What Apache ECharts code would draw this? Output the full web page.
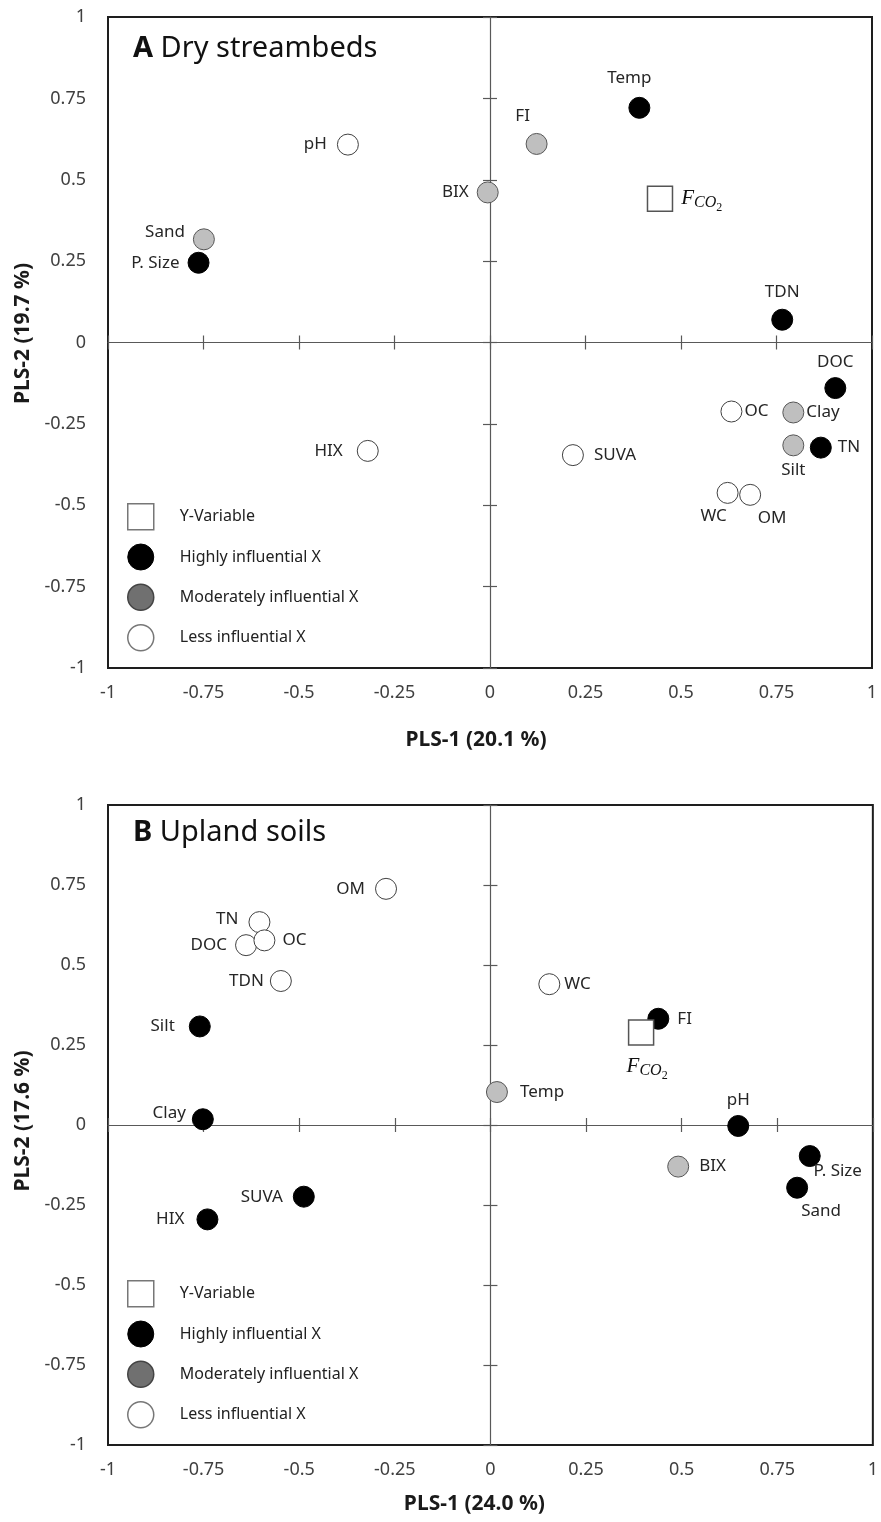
<!DOCTYPE html>
<html>
<head>
<meta charset="utf-8">
<script src="https://cdn.jsdelivr.net/npm/echarts@6/dist/echarts.min.js"></script>
<style>
  html, body { margin: 0; padding: 0; background: #fff; }
  #chart { width: 881px; height: 1522px; }
</style>
</head>
<body>
<div id="chart"></div>
<script>
// panel A - dry streambeds
var namesA  = ['pH', 'Sand', 'P. Size', 'Temp', 'FI', 'BIX', 'TDN', 'DOC', 'OC', 'Clay', 'Silt', 'TN', 'SUVA', 'WC', 'OM', 'HIX'];
var pls1A   = [-0.372, -0.749, -0.763, 0.391, 0.122, -0.006, 0.765, 0.904, 0.632, 0.794, 0.794, 0.866, 0.217, 0.622, 0.681, -0.320];
var pls2A   = [0.608, 0.317, 0.245, 0.721, 0.610, 0.461, 0.070, -0.140, -0.212, -0.215, -0.316, -0.323, -0.346, -0.462, -0.468, -0.333];
var levelA  = ['less', 'mod', 'high', 'high', 'mod', 'mod', 'high', 'high', 'less', 'mod', 'mod', 'high', 'less', 'less', 'less', 'less'];
var fco2A   = [0.445, 0.442];

// panel B - upland soils
var namesB  = ['OM', 'TN', 'DOC', 'OC', 'TDN', 'Silt', 'Clay', 'WC', 'FI', 'Temp', 'pH', 'BIX', 'P. Size', 'Sand', 'SUVA', 'HIX'];
var pls1B   = [-0.273, -0.604, -0.639, -0.591, -0.548, -0.760, -0.752, 0.154, 0.439, 0.017, 0.648, 0.491, 0.835, 0.802, -0.488, -0.740];
var pls2B   = [0.738, 0.634, 0.562, 0.577, 0.450, 0.308, 0.018, 0.440, 0.332, 0.103, -0.003, -0.130, -0.097, -0.196, -0.224, -0.295];
var levelB  = ['less', 'less', 'less', 'less', 'less', 'high', 'high', 'less', 'high', 'mod', 'high', 'mod', 'high', 'high', 'high', 'high'];
var fco2B   = [0.394, 0.289];

var axisTicks = [-1, -0.75, -0.5, -0.25, 0, 0.25, 0.5, 0.75, 1];
var xTitles = ['PLS-1 (20.1 %)', 'PLS-1 (24.0 %)'];
var yTitles = ['PLS-2 (19.7 %)', 'PLS-2 (17.6 %)'];
var panelTitles = ['A', 'B'];
var panelNames = [' Dry streambeds', ' Upland soils'];
var legendNames = ['Y-Variable', 'Highly influential X', 'Moderately influential X', 'Less influential X'];

// label placement (style only)
var posA = {
    'pH': ['left', 10], 'Sand': ['left', 8, [0, -7]], 'P. Size': ['left', 8], 'Temp': ['top', 10, [-10, 0]],
    'FI': ['top', 8, [-14, 0]], 'BIX': ['left', 8], 'TDN': ['top', 8], 'DOC': ['top', 6],
    'OC': ['right', 2], 'Clay': ['right', 2], 'Silt': ['bottom', 5], 'TN': ['right', 6],
    'SUVA': ['right', 10], 'WC': ['bottom', 4, [-14, 0]], 'OM': ['bottom', 4, [22, 0]], 'HIX': ['left', 14]
};
var posB = {
    'OM': ['left', 10], 'TN': ['left', 10, [0, -3]], 'OC': ['right', 7], 'DOC': ['left', 8], 'TDN': ['left', 6],
    'Silt': ['left', 14], 'Clay': ['left', 6, [0, -6]], 'WC': ['right', 4], 'FI': ['right', 8],
    'Temp': ['right', 12], 'pH': ['top', 6], 'BIX': ['right', 10], 'P. Size': ['bottom', 2, [28, -6]],
    'Sand': ['bottom', 4, [24, 0]], 'SUVA': ['left', 10], 'HIX': ['left', 12]
};

var FONT = 'Noto Sans';
var styles = {
    high: { color: '#000', borderColor: '#000', borderWidth: 1, opacity: 1 },
    mod:  { color: '#bfbfbf', borderColor: '#555', borderWidth: 1, opacity: 1 },
    less: { color: '#fff', borderColor: '#404040', borderWidth: 1, opacity: 1 }
};
var groupName = { high: 'Highly influential X', mod: 'Moderately influential X', less: 'Less influential X' };

function labelOpt(p) {
    var o = { show: true, position: p[0], distance: p[1], color: '#262626', fontSize: 17, fontFamily: FONT,
        formatter: function (d) { return d.name; } };
    if (p[2]) o.offset = p[2];
    return o;
}

function buildSeries(g, names, xs, ys, levels, fco2, pos, fpos) {
    var out = [];
    ['less', 'mod', 'high'].forEach(function (lv) {
        var data = [];
        for (var i = 0; i < names.length; i++) {
            if (levels[i] !== lv) continue;
            data.push({ name: names[i], value: [xs[i], ys[i]], label: labelOpt(pos[names[i]]) });
        }
        out.push({
            name: groupName[lv], type: 'scatter', xAxisIndex: g * 3, yAxisIndex: g * 3,
            symbol: 'circle', symbolSize: 21, itemStyle: styles[lv], data: data, z: 3
        });
    });
    var fl = {
        show: true, position: fpos[0], distance: fpos[1], offset: fpos[2] || [0, 0],
        formatter: '{f|F}{s|CO}{t|2}',
        rich: {
            f: { fontFamily: 'Liberation Serif', fontStyle: 'italic', fontSize: 21, color: '#111' },
            s: { fontFamily: 'Liberation Serif', fontStyle: 'italic', fontSize: 16, color: '#111', padding: [9, 0, 0, 0] },
            t: { fontFamily: 'Liberation Serif', fontSize: 12, color: '#111', padding: [19, 0, 0, 0] }
        }
    };
    out.push({
        name: 'Y-Variable', type: 'scatter', xAxisIndex: g * 3, yAxisIndex: g * 3,
        symbol: 'rect', symbolSize: 25, z: 4,
        itemStyle: { color: '#fff', borderColor: '#555', borderWidth: 1.5, opacity: 1 },
        data: [{ name: 'FCO2', value: fco2, label: fl }]
    });
    return out;
}

var grids = [
    { left: 108, top: 17, width: 764, height: 651 },
    { left: 108, top: 805, width: 770, height: 640 }
];
grids.forEach(function (gr) {
    gr.show = true; gr.borderColor = '#1e1e1e'; gr.borderWidth = 2; gr.backgroundColor = 'transparent';
});

var xAxes = [], yAxes = [];
var xNameGap = [62, 49];
var xNamePad = [[0, 28, 0, 0], [0, 32, 0, 0]];
var yNamePad = [[0, 0, 0, 18], [0, 0, 0, 8]];
[0, 1].forEach(function (g) {
    var base = { gridIndex: g, type: 'value', min: axisTicks[0], max: axisTicks[axisTicks.length - 1], interval: 0.25, splitLine: { show: false } };
    // label axes at the box edges
    xAxes.push(Object.assign({}, base, {
        position: 'bottom', axisLine: { show: false, onZero: false }, axisTick: { show: false },
        axisLabel: { fontSize: 18, color: '#404040', fontFamily: FONT, margin: 16 },
        name: xTitles[g], nameLocation: 'middle', nameGap: xNameGap[g],
        nameTextStyle: { fontSize: 21, fontWeight: 'bold', color: '#1a1a1a', fontFamily: FONT, padding: xNamePad[g] }
    }));
    yAxes.push(Object.assign({}, base, {
        position: 'left', axisLine: { show: false, onZero: false }, axisTick: { show: false },
        axisLabel: { fontSize: 18, color: '#404040', fontFamily: FONT, margin: 22 },
        name: yTitles[g], nameLocation: 'middle', nameGap: 72,
        nameTextStyle: { fontSize: 21, fontWeight: 'bold', color: '#1a1a1a', fontFamily: FONT, padding: yNamePad[g] }
    }));
    // zero lines with crossing ticks
    [true, false].forEach(function (inside) {
        xAxes.push(Object.assign({}, base, {
            position: 'bottom',
            axisLine: { show: inside, onZero: true, onZeroAxisIndex: g * 3, lineStyle: { color: '#595959', width: 1.2 } },
            axisTick: { show: true, inside: inside, length: 7, lineStyle: { color: '#595959', width: 1.2 } },
            axisLabel: { show: false }
        }));
        yAxes.push(Object.assign({}, base, {
            position: 'left',
            axisLine: { show: inside, onZero: true, onZeroAxisIndex: g * 3, lineStyle: { color: '#595959', width: 1.2 } },
            axisTick: { show: true, inside: inside, length: 7, lineStyle: { color: '#595959', width: 1.2 } },
            axisLabel: { show: false }
        }));
    });
});

function legendOpt(top) {
    return {
        orient: 'vertical', left: 127, top: top, padding: 0, itemGap: 13, itemWidth: 26, itemHeight: 26,
        selectedMode: false,
        textStyle: { fontSize: 16, color: '#222', fontFamily: FONT, padding: [0, 0, 0, 21] },
        data: [
            { name: legendNames[0], icon: 'rect', itemStyle: { color: '#fff', borderColor: '#777', borderWidth: 1.5, opacity: 1 } },
            { name: legendNames[1], icon: 'circle', itemStyle: { color: '#000', borderColor: '#000', borderWidth: 1, opacity: 1 } },
            { name: legendNames[2], icon: 'circle', itemStyle: { color: '#707070', borderColor: '#444', borderWidth: 1.5, opacity: 1 } },
            { name: legendNames[3], icon: 'circle', itemStyle: { color: '#fff', borderColor: '#777', borderWidth: 1.5, opacity: 1 } }
        ]
    };
}

function titleOpt(g, top) {
    return {
        text: '{b|' + panelTitles[g] + '}' + panelNames[g], left: 133, top: top, padding: 0,
        textStyle: {
            fontSize: 29, fontWeight: 'normal', color: '#111', fontFamily: FONT,
            rich: { b: { fontSize: 29, fontWeight: 'bold', color: '#111', fontFamily: FONT } }
        }
    };
}

var chart = echarts.init(document.getElementById('chart'));
chart.setOption({
    animation: false,
    title: [titleOpt(0, 34), titleOpt(1, 818)],
    legend: [legendOpt(503), legendOpt(1280)],
    grid: grids,
    xAxis: xAxes,
    yAxis: yAxes,
    series: buildSeries(0, namesA, pls1A, pls2A, levelA, fco2A, posA, ['right', 8])
        .concat(buildSeries(1, namesB, pls1B, pls2B, levelB, fco2B, posB, ['bottom', 5, [6, 0]]))
});
</script>
</body>
</html>
